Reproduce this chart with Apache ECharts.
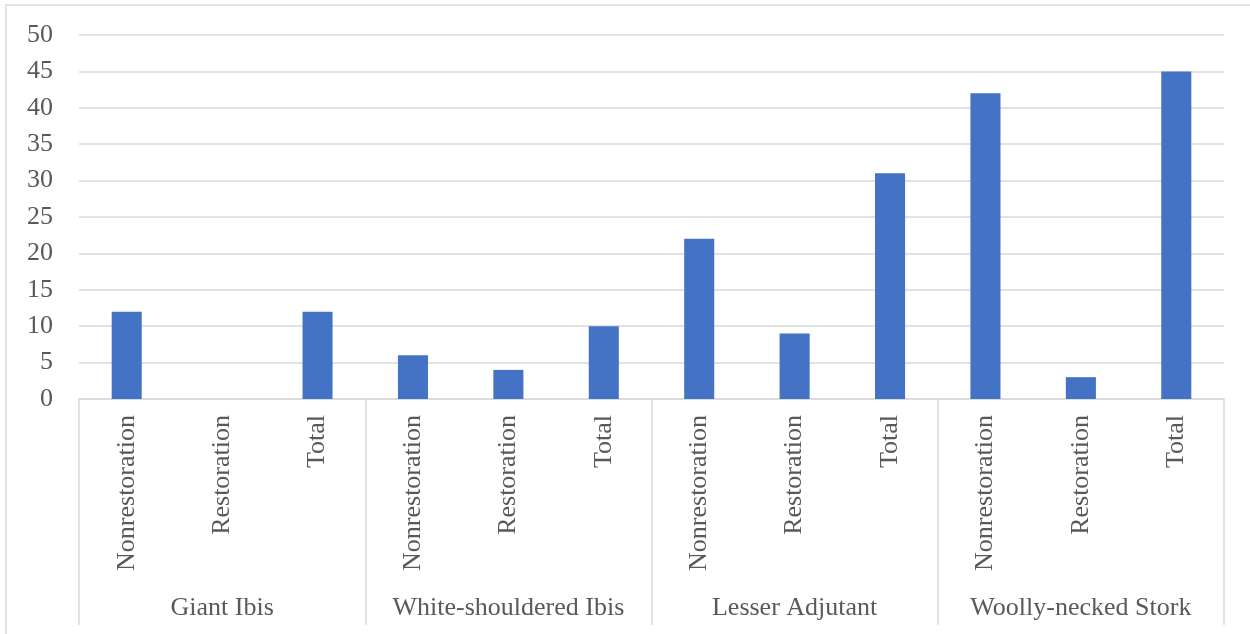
<!DOCTYPE html>
<html>
<head>
<meta charset="utf-8">
<script src="https://cdn.jsdelivr.net/npm/echarts@6/dist/echarts.min.js"></script>
<style>
  html, body { margin: 0; padding: 0; background: #ffffff; }
  #chart { width: 1250px; height: 634px; }
</style>
</head>
<body>
<div id="chart"></div>
<script>
// Species groups and the sub-categories shown under each one
const species = ['Giant Ibis', 'White-shouldered Ibis', 'Lesser Adjutant', 'Woolly-necked Stork'];
const subCategories = ['Nonrestoration', 'Restoration', 'Total'];

// Counts per species: [Nonrestoration, Restoration, Total]
const giantIbis = [12, 0, 12];
const whiteShoulderedIbis = [6, 4, 10];
const lesserAdjutant = [22, 9, 31];
const woollyNeckedStork = [42, 3, 45];

// Value-axis ticks
const yMin = 0;
const yMax = 50;
const yStep = 5;

const categories = [];
species.forEach(() => subCategories.forEach(s => categories.push(s)));
const values = [].concat(giantIbis, whiteShoulderedIbis, lesserAdjutant, woollyNeckedStork);

const textColor = '#595959';
const lineColor = '#d9d9d9';
const fontFamily = '"Liberation Serif", "Times New Roman", serif';
const fontSize = 26;

const chart = echarts.init(document.getElementById('chart'), null, { renderer: 'canvas' });

chart.setOption({
  animation: false,
  backgroundColor: '#ffffff',
  graphic: [{
    type: 'rect',
    shape: { x: 6, y: 5, width: 1270, height: 660 },
    style: { fill: 'none', stroke: lineColor, lineWidth: 1.5 },
    silent: true,
    z: -1
  }],
  grid: { left: 79, right: 26, top: 35, bottom: 235, containLabel: false },
  xAxis: [
    {
      type: 'category',
      data: categories,
      position: 'bottom',
      axisLine: { show: false },
      axisTick: { show: false },
      axisLabel: {
        interval: 0,
        rotate: 90,
        margin: 16,
        color: textColor,
        fontFamily: fontFamily,
        fontSize: fontSize
      }
    },
    {
      type: 'category',
      data: species,
      position: 'bottom',
      offset: 0,
      axisLine: { show: true, lineStyle: { color: lineColor, width: 1.5 } },
      axisTick: { show: true, length: 226, lineStyle: { color: lineColor, width: 1.5 } },
      axisLabel: {
        interval: 0,
        margin: 196,
        color: textColor,
        fontFamily: fontFamily,
        fontSize: fontSize
      },
      splitLine: { show: false }
    }
  ],
  yAxis: {
    type: 'value',
    min: yMin,
    max: yMax,
    interval: yStep,
    axisLine: { show: false },
    axisTick: { show: false },
    axisLabel: {
      margin: 26,
      color: textColor,
      fontFamily: fontFamily,
      fontSize: fontSize
    },
    splitLine: { lineStyle: { color: lineColor, width: 1.5 } }
  },
  series: [{
    type: 'bar',
    xAxisIndex: 0,
    data: values,
    barWidth: '31.5%',
    itemStyle: { color: '#4472c4' }
  }]
});
</script>
</body>
</html>
